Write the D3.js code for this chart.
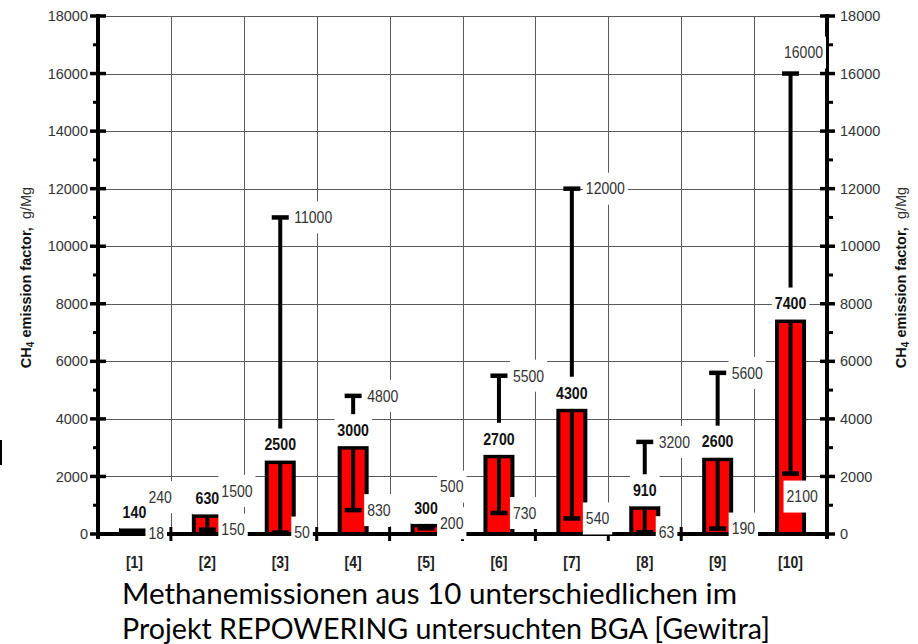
<!DOCTYPE html>
<html>
<head>
<meta charset="utf-8">
<script src="https://cdn.jsdelivr.net/npm/d3@7"></script>
<style>
  html, body { margin: 0; padding: 0; background: #fff; }
  svg { display: block; }
</style>
</head>
<body>
<script>
// ---------- data ----------
const categories = ["[1]", "[2]", "[3]", "[4]", "[5]", "[6]", "[7]", "[8]", "[9]", "[10]"];
const medianValues = [140, 630, 2500, 3000, 300, 2700, 4300, 910, 2600, 7400];
const minValues = [18, 150, 50, 830, 200, 730, 540, 63, 190, 2100];
const maxValues = [240, 1500, 11000, 4800, 500, 5500, 12000, 3200, 5600, 16000];
const yTickValues = [0, 2000, 4000, 6000, 8000, 10000, 12000, 14000, 16000, 18000];
const yMinorTickValues = [1000, 3000, 5000, 7000, 9000, 11000, 13000, 15000, 17000];
const axisTitleBold = "emission factor,";
const axisTitleUnit = "g/Mg";
const captionLines = [
  "Methanemissionen aus 10 unterschiedlichen im",
  "Projekt REPOWERING untersuchten BGA [Gewitra]"
];

// ---------- layout (pixel nudges for crowded labels) ----------
const maxLabelNudge = { 0: { dy: -30 }, 4: { dy: -33 }, 9: { dy: -21, endX: 823 } };
const minLabelNudge = { 4: { dy: -5 }, 9: { dy: 23, dx: -18 } };

const W = 918, H = 644;
const plotL = 98, plotR = 827, plotT = 16, plotB = 534;
const FONT = "'Liberation Sans', Arial, Helvetica, sans-serif";

const svg = d3.select("body").append("svg")
  .attr("width", W).attr("height", H)
  .attr("font-family", FONT);

const x = d3.scaleBand().domain(categories).range([plotL, plotR]).padding(0);
const y = d3.scaleLinear().domain([0, 18000]).range([plotB, plotT]);
const cx = c => x(c) + x.bandwidth() / 2;

// ---------- grid ----------
const grid = svg.append("g").attr("stroke", "#5a5a5a").attr("stroke-width", 1);
grid.selectAll("line.h").data(yTickValues.filter(v => v > 0)).join("line")
  .attr("x1", plotL).attr("x2", plotR)
  .attr("y1", d => Math.round(y(d)) + 0.5).attr("y2", d => Math.round(y(d)) + 0.5);
grid.selectAll("line.v").data(categories.slice(1)).join("line")
  .attr("x1", d => Math.round(x(d)) + 0.5).attr("x2", d => Math.round(x(d)) + 0.5)
  .attr("y1", plotT).attr("y2", plotB);

// ---------- bars ----------
const barW = 27;
svg.append("g").selectAll("rect").data(categories).join("rect")
  .attr("x", c => cx(c) - barW / 2)
  .attr("width", barW)
  .attr("y", (c, i) => y(medianValues[i]))
  .attr("height", (c, i) => y(0) - y(medianValues[i]))
  .attr("fill", "#ff0000")
  .attr("stroke", "#000")
  .attr("stroke-width", 4);

// ---------- whiskers ----------
const wg = svg.append("g").attr("stroke", "#000");
const capW = 17;
wg.selectAll("line.w").data(categories).join("line")
  .attr("stroke-width", 4)
  .attr("x1", cx).attr("x2", cx)
  .attr("y1", (c, i) => y(maxValues[i])).attr("y2", (c, i) => y(minValues[i]));
wg.selectAll("line.capmax").data(categories).join("line")
  .attr("stroke-width", 4.5)
  .attr("x1", c => cx(c) - capW / 2).attr("x2", c => cx(c) + capW / 2)
  .attr("y1", (c, i) => y(maxValues[i])).attr("y2", (c, i) => y(maxValues[i]));
wg.selectAll("line.capmin").data(categories).join("line")
  .attr("stroke-width", 4.5)
  .attr("x1", c => cx(c) - capW / 2).attr("x2", c => cx(c) + capW / 2)
  .attr("y1", (c, i) => y(minValues[i])).attr("y2", (c, i) => y(minValues[i]));

// ---------- axes ----------
const ax = svg.append("g").attr("stroke", "#000");
ax.append("line").attr("x1", plotL).attr("x2", plotR)
  .attr("y1", y(0)).attr("y2", y(0)).attr("stroke-width", 4);
ax.selectAll("line.bm").data(categories.slice(1)).join("line")
  .attr("x1", d => x(d)).attr("x2", d => x(d))
  .attr("y1", y(0) - 7).attr("y2", y(0) + 7).attr("stroke-width", 3);
[plotL, plotR].forEach(xx => {
  ax.append("line").attr("x1", xx).attr("x2", xx)
    .attr("y1", y(18000) - 2).attr("y2", y(0) + 5).attr("stroke-width", 4);
});
ax.selectAll("line.lmaj").data(yTickValues).join("line")
  .attr("x1", plotL - 8).attr("x2", plotL + 8)
  .attr("y1", d => y(d)).attr("y2", d => y(d)).attr("stroke-width", 3.5);
ax.selectAll("line.rmaj").data(yTickValues).join("line")
  .attr("x1", plotR - 7).attr("x2", plotR + 8)
  .attr("y1", d => y(d)).attr("y2", d => y(d)).attr("stroke-width", 3.5);
ax.selectAll("line.lmin").data(yMinorTickValues).join("line")
  .attr("x1", plotL - 5).attr("x2", plotL)
  .attr("y1", d => y(d)).attr("y2", d => y(d)).attr("stroke-width", 3);
ax.selectAll("line.rmin").data(yMinorTickValues).join("line")
  .attr("x1", plotR).attr("x2", plotR + 6)
  .attr("y1", d => y(d)).attr("y2", d => y(d)).attr("stroke-width", 3);

const leftAxis = svg.append("g").attr("transform", `translate(${plotL},0)`)
  .call(d3.axisLeft(y).tickValues(yTickValues).tickSize(0).tickPadding(10).tickFormat(d3.format("d")));
const rightAxis = svg.append("g").attr("transform", `translate(${plotR},0)`)
  .call(d3.axisRight(y).tickValues(yTickValues).tickSize(0).tickPadding(13).tickFormat(d3.format("d")));
[leftAxis, rightAxis].forEach(a => {
  a.select(".domain").remove();
  a.selectAll("text").attr("font-size", 14.5).attr("fill", "#333")
    .attr("font-family", FONT);
});

// ---------- labels with white boxes ----------
const lg = svg.append("g");
function boxedLabel(px, py, text, opts) {
  const sx = opts.sx || 1;
  const outer = lg.append("g").attr("transform", `translate(${px},${py})`);
  const inner = outer.append("g").attr("transform", `scale(${sx},1)`);
  const rect = inner.append("rect").attr("fill", "#fff");
  const t = inner.append("text")
    .attr("text-anchor", opts.anchor || "start")
    .attr("dy", "0.35em")
    .attr("font-family", FONT)
    .attr("font-size", opts.size)
    .attr("font-weight", opts.weight || "normal")
    .attr("fill", opts.fill || "#333")
    .text(text);
  const bb = t.node().getBBox();
  const pad = 3 / sx;
  rect.attr("x", bb.x - pad).attr("width", bb.width + 2 * pad)
    .attr("y", -16).attr("height", 32);
}

categories.forEach((c, i) => {
  const startX = cx(c) + 14;
  const mn = maxLabelNudge[i] || {};
  if (mn.endX !== undefined) {
    boxedLabel(mn.endX, y(maxValues[i]) + (mn.dy || 0), String(maxValues[i]),
      { size: 16.5, sx: 0.85, anchor: "end" });
  } else {
    boxedLabel(startX + (mn.dx || 0), y(maxValues[i]) + (mn.dy || 0), String(maxValues[i]),
      { size: 16.5, sx: 0.85 });
  }
  const nn = minLabelNudge[i] || {};
  boxedLabel(startX + (nn.dx || 0), y(minValues[i]) + (nn.dy || 0), String(minValues[i]),
    { size: 16.5, sx: 0.85 });
});
categories.forEach((c, i) => {
  boxedLabel(cx(c), y(medianValues[i]) - 17.5, String(medianValues[i]),
    { size: 16.5, sx: 0.86, anchor: "middle", weight: "bold", fill: "#111" });
});

// ---------- category labels ----------
svg.append("g").selectAll("text").data(categories).join("text")
  .attr("transform", c => `translate(${cx(c)},562) scale(0.85,1)`)
  .attr("text-anchor", "middle").attr("dy", "0.35em")
  .attr("font-size", 16.5).attr("font-weight", "bold").attr("fill", "#222")
  .text(c => c);

// ---------- axis titles ----------
function axisTitle(bx) {
  const t = svg.append("text")
    .attr("transform", `translate(${bx},277.5) rotate(-90)`)
    .attr("text-anchor", "middle")
    .attr("font-size", 14.5).attr("fill", "#111");
  t.append("tspan").attr("font-weight", "bold").text("CH");
  t.append("tspan").attr("font-weight", "bold").attr("font-size", 10).attr("dy", 3).text("4");
  t.append("tspan").attr("font-weight", "bold").attr("dy", -3).text(" " + axisTitleBold);
  t.append("tspan").attr("font-weight", "normal").attr("fill", "#333").text("\u00a0\u00a0" + axisTitleUnit);
}
axisTitle(31);
axisTitle(906);

svg.append("rect").attr("x", 0).attr("y", 440).attr("width", 2).attr("height", 25).attr("fill", "#000");

// ---------- caption ----------
const capLens = [615, 648];
const capBase = [604, 639];
captionLines.forEach((line, i) => {
  svg.append("text")
    .attr("x", 122).attr("y", capBase[i])
    .attr("font-family", "Lato, 'Open Sans', sans-serif")
    .attr("font-size", 29).attr("fill", "#000")
    .attr("textLength", capLens[i]).attr("lengthAdjust", "spacingAndGlyphs")
    .text(line);
});
</script>
</body>
</html>
